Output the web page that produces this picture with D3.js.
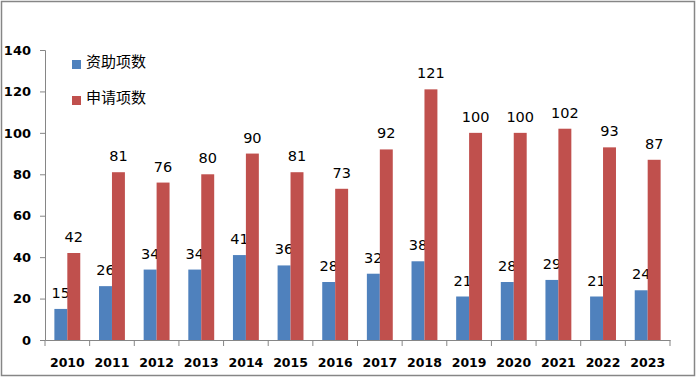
<!DOCTYPE html>
<html><head><meta charset="utf-8">
<script src="https://cdn.jsdelivr.net/npm/d3@7"></script>
<style>body{margin:0;background:#fff}svg{display:block}</style>
</head><body>
<script>
const years = ["2010","2011","2012","2013","2014","2015","2016","2017","2018","2019","2020","2021","2022","2023"];
const funded = [15,26,34,34,41,36,28,32,38,21,28,29,21,24];
const applied = [42,81,76,80,90,81,73,92,121,100,100,102,93,87];
const seriesNames = ["资助项数","申请项数"];
const seriesColors = ["#4F81BD","#C0504D"];
const yTicks = [0,20,40,60,80,100,120,140];

(function(){
const W = 697, H = 379;
const svg = d3.select("body").append("svg").attr("width", W).attr("height", H);
svg.append("rect").attr("x",1.5).attr("y",1.5).attr("width",W-4).attr("height",H-5)
  .attr("fill","#fff").attr("stroke","#868686").attr("stroke-width",1.5);

const mLeft = 45, mRight = 670, mTop = 50, mBottom = 340;
const x = d3.scaleBand().domain(years).range([mLeft,mRight]).paddingInner(0).paddingOuter(0);
const y = d3.scaleLinear().domain([0,140]).range([mBottom,mTop]);
const barW = x.bandwidth()*0.29;

const yAxis = d3.axisLeft(y).tickValues(yTicks).tickSize(5).tickPadding(9);
const gy = svg.append("g").attr("transform",`translate(${mLeft},0)`).call(yAxis);
gy.selectAll("text").attr("font-family","DejaVu Sans").attr("font-weight","bold").attr("font-size",13).attr("fill","#000");

const xAxis = d3.axisBottom(x).tickSize(0).tickPadding(18);
const gx = svg.append("g").attr("transform",`translate(0,${mBottom})`).call(xAxis);
gx.selectAll("text").attr("font-family","DejaVu Sans").attr("font-weight","bold").attr("font-size",12.5).attr("fill","#000");
gx.selectAll(".bt").data(d3.range(years.length+1)).enter().append("line")
  .attr("x1",i=>mLeft+i*x.step()).attr("x2",i=>mLeft+i*x.step()).attr("y1",0).attr("y2",6)
  .attr("stroke","#868686");
svg.selectAll(".domain, .tick line").attr("stroke","#868686");

const data = [funded, applied];
data.forEach((vals, s) => {
  const g = svg.append("g");
  g.selectAll("rect").data(vals).enter().append("rect")
    .attr("x",(d,i)=>x(years[i]) + x.bandwidth()/2 - barW + s*barW)
    .attr("width",barW)
    .attr("y",d=>y(d)).attr("height",d=>mBottom-y(d))
    .attr("fill",seriesColors[s]);
  g.selectAll("text").data(vals).enter().append("text")
    .attr("x",(d,i)=>x(years[i]) + x.bandwidth()/2 - barW/2 + s*barW)
    .attr("y",d=>y(d)-11)
    .attr("text-anchor","middle")
    .attr("font-family","DejaVu Sans").attr("font-size",14.5).attr("fill","#000")
    .text(d=>d);
});

seriesNames.forEach((n,i)=>{
  const ly = 62 + i*36;
  svg.append("rect").attr("x",72).attr("y",ly-2).attr("width",9).attr("height",9).attr("fill",seriesColors[i]);
  svg.append("text").attr("x",86).attr("y",ly+1).attr("dominant-baseline","middle")
    .attr("font-family","Noto Sans CJK SC").attr("font-size",15).attr("fill","#000").text(n);
});
})();
</script>
</body></html>
